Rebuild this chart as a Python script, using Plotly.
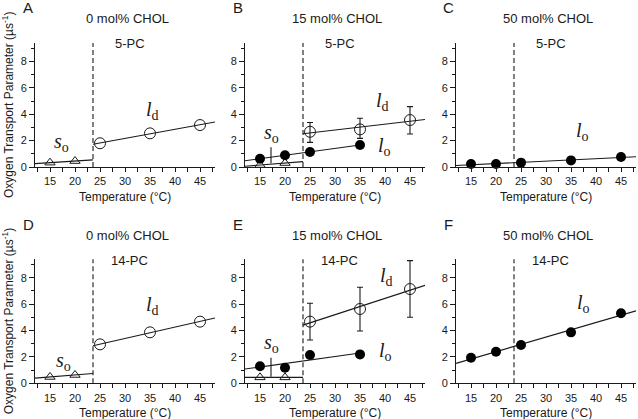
import numpy as np
import plotly.graph_objects as go

# ---------------- data ----------------
T_SO = [15, 20]
T_ALL = [15, 20, 25, 35, 45]
T_LO_15 = [15, 20, 25, 35]
T_LD = [25, 35, 45]
TRANSITION_T = 23.6
X_RANGE = [12, 48]
Y_RANGE = [0, 9.4]

A_so = [0.33, 0.45]
A_ld = [1.80, 2.55, 3.18]

B_so = [0.15, 0.30]
B_lo = [0.63, 0.89, 1.14, 1.67]
B_ld = [2.67, 2.85, 3.56]
B_ld_err_up = [0.70, 0.84, 1.02]
B_ld_err_dn = [0.80, 0.68, 1.06]

C_lo = [0.23, 0.23, 0.33, 0.50, 0.76]

D_so = [0.48, 0.63]
D_ld = [2.95, 3.86, 4.67]

E_so = [0.45, 0.45]
E_lo = [1.29, 1.18, 2.14, 2.19]
E_ld = [4.67, 5.63, 7.14]
E_ld_err_up = [1.39, 1.64, 2.15]
E_ld_err_dn = [1.39, 1.67, 2.14]

F_lo = [1.94, 2.39, 2.90, 3.86, 5.30]

LETTERS = ["A", "B", "C", "D", "E", "F"]
CHOL = ["0 mol% CHOL", "15 mol% CHOL", "50 mol% CHOL"] * 2
PROBE = ["5-PC"] * 3 + ["14-PC"] * 3
X_TICKS = [15, 20, 25, 30, 35, 40, 45]
Y_TICKS = [0, 2, 4, 6, 8]

# ---------------- layout geometry ----------------
W, H = 638, 419
col_px = [(35, 215), (245, 425), (456, 636)]
row_px = [(167, 43), (383.3, 259.2)]  # (y0 pixel, ytop pixel)

SANS = "Liberation Sans, Arial, sans-serif"
SERIF = "Liberation Serif, Times New Roman, serif"
INK = "#1a1a1a"

fig = go.Figure()
layout = dict(width=W, height=H, autosize=False, template="none",
              margin=dict(l=0, r=0, t=0, b=0, pad=0),
              paper_bgcolor="white", plot_bgcolor="white",
              showlegend=False, annotations=[], shapes=[])


def ax_names(i):
    n = "" if i == 0 else str(i + 1)
    return "x" + n, "y" + n, "xaxis" + n, "yaxis" + n


def fit_line(xs, ys, x0, x1):
    p = np.polyfit(xs, ys, 1)
    xx = np.array([x0, x1])
    return xx, np.polyval(p, xx)


def add_series(i, xs, ys, kind, x0, x1, err=None):
    xr, yr, _, _ = ax_names(i)
    lx, ly = fit_line(xs, ys, x0, x1)
    fig.add_trace(go.Scatter(x=lx, y=ly, mode="lines", xaxis=xr, yaxis=yr,
                             line=dict(color=INK, width=1.1), hoverinfo="skip",
                             cliponaxis=False))
    if kind == "so":
        marker = dict(symbol="triangle-up-open", size=9, color=INK, line=dict(width=1))
    elif kind == "ld":
        marker = dict(symbol="circle-open", size=11, color=INK, line=dict(width=1))
    else:
        marker = dict(symbol="circle", size=10, color="black")
    tr = dict(x=xs, y=ys, mode="markers", xaxis=xr, yaxis=yr, marker=marker,
              cliponaxis=False)
    if err is not None:
        tr["error_y"] = dict(type="data", symmetric=False, array=err[0],
                             arrayminus=err[1], color=INK, thickness=1.1, width=3)
    fig.add_trace(go.Scatter(**tr))


def label(i, x, y, phase, sub, size=20, pointer=None):
    xr, yr, _, _ = ax_names(i)
    text = "<i>%s</i><sub>%s</sub>" % (phase, sub)
    a = dict(xref=xr, yref=yr, text=text, showarrow=False,
             xanchor="center", yanchor="middle",
             font=dict(family=SERIF, size=size, color=INK))
    if pointer is None:
        a.update(x=x, y=y)
    else:
        a.update(x=x, y=pointer[0], showarrow=True, arrowhead=0, arrowwidth=1.1,
                 arrowcolor=INK, ax=0, ay=-pointer[1], standoff=0)
    layout["annotations"].append(a)


def ptext(x, y, text, size, **kw):
    d = dict(xref="paper", yref="paper", x=x, y=y, text=text, showarrow=False,
             xanchor="center", yanchor="middle",
             font=dict(family=SANS, size=size, color=INK))
    d.update(kw)
    return d


for i in range(6):
    r, c = divmod(i, 3)
    xr, yr, xk, yk = ax_names(i)
    x0p, x1p = col_px[c]
    y0p, y1p = row_px[r]
    layout[xk] = dict(domain=[x0p / W, x1p / W], range=X_RANGE, anchor=yr,
                      automargin=False,
                      showline=True, linecolor=INK, linewidth=1.1,
                      ticks="outside", ticklen=4, tickwidth=1, tickcolor=INK,
                      tickvals=X_TICKS, showgrid=False, zeroline=False,
                      tickfont=dict(family=SANS, size=11, color=INK),
                      minor=dict(tickvals=[12.5, 17.5, 22.5, 27.5, 32.5, 37.5, 42.5, 47.5],
                                 ticks="outside", ticklen=4, tickcolor=INK, tickwidth=1,
                                 showgrid=False))
    layout[yk] = dict(domain=[1 - y0p / H, 1 - y1p / H], range=Y_RANGE, anchor=xr,
                      automargin=False,
                      showline=True, linecolor=INK, linewidth=1.1,
                      ticks="outside", ticklen=5, tickwidth=1, tickcolor=INK,
                      tickvals=Y_TICKS, showgrid=False, zeroline=False,
                      tickfont=dict(family=SANS, size=11, color=INK),
                      minor=dict(tickvals=[1, 3, 5, 7, 9], ticks="outside",
                                 ticklen=3, tickcolor=INK, tickwidth=1, showgrid=False))
    # dashed transition line
    layout["shapes"].append(dict(type="line", xref=xr, yref=yr + " domain",
                                 x0=TRANSITION_T, x1=TRANSITION_T, y0=0, y1=1,
                                 line=dict(color=INK, width=1.1, dash="5px,3px")))
    # panel texts
    xc = (x0p + x1p) / 2
    layout["annotations"] += [
        ptext((x0p - 7) / W, 1 - (y1p - 35) / H, LETTERS[i], 15),
        ptext((xc + 2) / W, 1 - (y1p - 24) / H, CHOL[i], 13),
        dict(xref=xr, yref="paper", x=30.9, y=1 - (y1p + 1) / H,
             text=PROBE[i], showarrow=False, xanchor="center", yanchor="middle",
             font=dict(family=SANS, size=13, color=INK)),
        ptext(xc / W, 1 - (y0p + 30) / H, "Temperature (\u00b0C)", 12),
    ]
    if c == 0:
        layout["annotations"].append(
            ptext(8 / W, 1 - (y0p - 62) / H,
                  "Oxygen Transport Parameter (\u00b5s<sup>-1</sup>)", 12,
                  textangle=-90))

lo_x, hi_x = X_RANGE
# A
add_series(0, T_SO, A_so, "so", lo_x, TRANSITION_T)
add_series(0, T_LD, A_ld, "ld", TRANSITION_T, hi_x)
label(0, 35.5, 4.3, "l", "d")
label(0, 17.3, 1.84, "s", "o")
# B
add_series(1, T_SO, B_so, "so", lo_x, TRANSITION_T)
add_series(1, T_LO_15, B_lo, "lo", lo_x, max(T_LO_15))
add_series(1, T_LD, B_ld, "ld", TRANSITION_T, hi_x, err=(B_ld_err_up, B_ld_err_dn))
label(1, 39.4, 4.95, "l", "d")
label(1, 39.8, 1.54, "l", "o")
label(1, 17.2, None, "s", "o", pointer=(0.28, 30))
# C
add_series(2, T_ALL, C_lo, "lo", lo_x, hi_x)
label(2, 37.2, 2.67, "l", "o")
# D
add_series(3, T_SO, D_so, "so", lo_x, TRANSITION_T)
add_series(3, T_LD, D_ld, "ld", TRANSITION_T, hi_x)
label(3, 35.5, 5.93, "l", "d")
label(3, 17.6, 1.64, "s", "o")
# E
add_series(4, T_SO, E_so, "so", lo_x, TRANSITION_T)
add_series(4, T_LO_15, E_lo, "lo", lo_x, max(T_LO_15))
add_series(4, T_LD, E_ld, "ld", TRANSITION_T, hi_x, err=(E_ld_err_up, E_ld_err_dn))
label(4, 40.2, 8.07, "l", "d")
label(4, 40.0, 2.4, "l", "o")
label(4, 17.2, None, "s", "o", pointer=(0.5, 33))
# F
add_series(5, T_ALL, F_lo, "lo", lo_x, hi_x)
label(5, 37.5, 6.06, "l", "o")

fig.update_layout(**layout)
fig.write_html("out.html", config={"displayModeBar": False},
               post_script="document.body.style.margin='0px';"
                           "document.body.style.overflow='hidden';")
